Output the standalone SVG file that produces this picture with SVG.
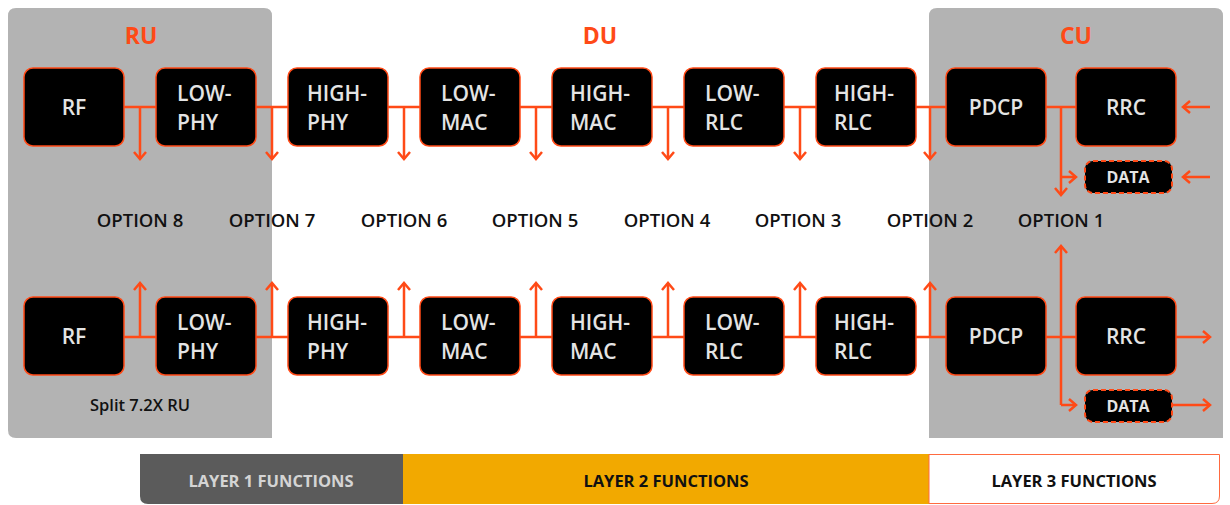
<svg xmlns="http://www.w3.org/2000/svg" width="1230" height="505" viewBox="0 0 1230 505">
<defs>
<style>
.panel{fill:#b3b3b3}
.box{fill:#000;stroke:#ff4a17;stroke-width:1.5}
.dbox{fill:#000;stroke:#ff4a17;stroke-width:2;stroke-dasharray:5 3}
.bt{font-family:"Open Sans","Liberation Sans",sans-serif;font-weight:600;font-size:21px;fill:#e4e4e4}
.bc{text-anchor:middle}
.dt{font-family:"Open Sans","Liberation Sans",sans-serif;font-weight:700;font-size:16px;fill:#e4e4e4;text-anchor:middle}
.hd{font-family:"Open Sans","Liberation Sans",sans-serif;font-weight:700;font-size:23px;fill:#ff4a17;text-anchor:middle}
.op{font-family:"Open Sans","Liberation Sans",sans-serif;font-weight:600;font-size:18.5px;fill:#111;text-anchor:middle}
.sp{font-family:"Open Sans","Liberation Sans",sans-serif;font-weight:600;font-size:16.5px;fill:#111;text-anchor:middle}
.lg{font-family:"Open Sans","Liberation Sans",sans-serif;font-weight:700;font-size:16.5px;text-anchor:middle}
.ln{fill:none;stroke:#ff4a17;stroke-width:2.5}
.ar{fill:none;stroke:#ff4a17;stroke-width:2.5;marker-end:url(#ah)}
</style>
<marker id="ah" viewBox="0 0 12 14" refX="10" refY="7" markerWidth="12" markerHeight="14" markerUnits="userSpaceOnUse" orient="auto">
<path d="M3,1 L10,7 L3,13" fill="none" stroke="#ff4a17" stroke-width="2.5"/>
</marker>
</defs>
<g id="panels">
<path class="panel" d="M8,16 Q8,8 16,8 L264,8 Q272,8 272,16 L272,438 L16,438 Q8,438 8,430 Z"/>
<path class="panel" d="M929,16 Q929,8 937,8 L1215,8 Q1223,8 1223,16 L1223,438 L929,438 Z"/>
</g>
<g id="headers">
<text class="hd" x="141" y="44">RU</text>
<text class="hd" x="600" y="44">DU</text>
<text class="hd" x="1076" y="44">CU</text>
</g>
<g id="connectors">
<path class="ln" d="M124,107H156M256,107H288M388,107H420M520,107H552M652,107H684M784,107H816M916,107H946M1046,107H1076"/>
<path class="ar" d="M140,107V159"/>
<path class="ar" d="M272,107V159"/>
<path class="ar" d="M404,107V159"/>
<path class="ar" d="M536,107V159"/>
<path class="ar" d="M668,107V159"/>
<path class="ar" d="M800,107V159"/>
<path class="ar" d="M930,107V159"/>
<path class="ar" d="M1061,107V195"/>
<path class="ar" d="M1061,177H1076"/>
<path class="ar" d="M1210,107H1183"/>
<path class="ar" d="M1210,177H1183"/>
<path class="ln" d="M124,337H156M256,337H288M388,337H420M520,337H552M652,337H684M784,337H816M916,337H946M1046,337H1076"/>
<path class="ar" d="M140,337V283"/>
<path class="ar" d="M272,337V283"/>
<path class="ar" d="M404,337V283"/>
<path class="ar" d="M536,337V283"/>
<path class="ar" d="M668,337V283"/>
<path class="ar" d="M800,337V283"/>
<path class="ar" d="M930,337V283"/>
<path class="ar" d="M1061,405V246"/>
<path class="ar" d="M1061,405H1076"/>
<path class="ar" d="M1176,337H1210"/>
<path class="ar" d="M1172,405H1210"/>
</g>
<g id="top-rf"><rect class="box" x="24" y="68" width="100" height="78" rx="9"/><text class="bt bc" x="74" y="115">RF</text></g>
<g id="top-lowphy"><rect class="box" x="156" y="68" width="100" height="78" rx="9"/><text class="bt" x="177" y="101">LOW-</text><text class="bt" x="177" y="130">PHY</text></g>
<g id="top-highphy"><rect class="box" x="288" y="68" width="100" height="78" rx="9"/><text class="bt" x="307" y="101">HIGH-</text><text class="bt" x="307" y="130">PHY</text></g>
<g id="top-lowmac"><rect class="box" x="420" y="68" width="100" height="78" rx="9"/><text class="bt" x="441" y="101">LOW-</text><text class="bt" x="441" y="130">MAC</text></g>
<g id="top-highmac"><rect class="box" x="552" y="68" width="100" height="78" rx="9"/><text class="bt" x="570" y="101">HIGH-</text><text class="bt" x="570" y="130">MAC</text></g>
<g id="top-lowrlc"><rect class="box" x="684" y="68" width="100" height="78" rx="9"/><text class="bt" x="705" y="101">LOW-</text><text class="bt" x="705" y="130">RLC</text></g>
<g id="top-highrlc"><rect class="box" x="816" y="68" width="100" height="78" rx="9"/><text class="bt" x="834" y="101">HIGH-</text><text class="bt" x="834" y="130">RLC</text></g>
<g id="top-pdcp"><rect class="box" x="946" y="68" width="100" height="78" rx="9"/><text class="bt bc" x="996" y="115">PDCP</text></g>
<g id="top-rrc"><rect class="box" x="1076" y="68" width="100" height="78" rx="9"/><text class="bt bc" x="1126" y="115">RRC</text></g>
<g id="top-data"><rect class="dbox" x="1085" y="161" width="87" height="32" rx="8"/><text class="dt" x="1128" y="183">DATA</text></g>
<g id="options">
<text class="op" x="140" y="227">OPTION 8</text>
<text class="op" x="272" y="227">OPTION 7</text>
<text class="op" x="404" y="227">OPTION 6</text>
<text class="op" x="535" y="227">OPTION 5</text>
<text class="op" x="667" y="227">OPTION 4</text>
<text class="op" x="798" y="227">OPTION 3</text>
<text class="op" x="930" y="227">OPTION 2</text>
<text class="op" x="1061" y="227">OPTION 1</text>
</g>
<g id="bot-rf"><rect class="box" x="24" y="297" width="100" height="78" rx="9"/><text class="bt bc" x="74" y="344">RF</text></g>
<g id="bot-lowphy"><rect class="box" x="156" y="297" width="100" height="78" rx="9"/><text class="bt" x="177" y="330">LOW-</text><text class="bt" x="177" y="359">PHY</text></g>
<g id="bot-highphy"><rect class="box" x="288" y="297" width="100" height="78" rx="9"/><text class="bt" x="307" y="330">HIGH-</text><text class="bt" x="307" y="359">PHY</text></g>
<g id="bot-lowmac"><rect class="box" x="420" y="297" width="100" height="78" rx="9"/><text class="bt" x="441" y="330">LOW-</text><text class="bt" x="441" y="359">MAC</text></g>
<g id="bot-highmac"><rect class="box" x="552" y="297" width="100" height="78" rx="9"/><text class="bt" x="570" y="330">HIGH-</text><text class="bt" x="570" y="359">MAC</text></g>
<g id="bot-lowrlc"><rect class="box" x="684" y="297" width="100" height="78" rx="9"/><text class="bt" x="705" y="330">LOW-</text><text class="bt" x="705" y="359">RLC</text></g>
<g id="bot-highrlc"><rect class="box" x="816" y="297" width="100" height="78" rx="9"/><text class="bt" x="834" y="330">HIGH-</text><text class="bt" x="834" y="359">RLC</text></g>
<g id="bot-pdcp"><rect class="box" x="946" y="297" width="100" height="78" rx="9"/><text class="bt bc" x="996" y="344">PDCP</text></g>
<g id="bot-rrc"><rect class="box" x="1076" y="297" width="100" height="78" rx="9"/><text class="bt bc" x="1126" y="344">RRC</text></g>
<g id="bot-data"><rect class="dbox" x="1085" y="390" width="87" height="32" rx="8"/><text class="dt" x="1128" y="412">DATA</text></g>
<g id="split-label"><text class="sp" x="140" y="411">Split 7.2X RU</text></g>
<g id="legend">
<path d="M140,454 H403 V504 H148 Q140,504 140,496 Z" fill="#5b5b5b"/>
<rect x="403" y="454" width="526" height="50" fill="#f2a900"/>
<path d="M929,454.5 H1219.5 V496 Q1219.5,503.5 1212,503.5 H929 Z" fill="#fff" stroke="#ff6a40" stroke-width="1"/>
<text class="lg" x="271" y="487" fill="#d4d4d4">LAYER 1 FUNCTIONS</text>
<text class="lg" x="666" y="487" fill="#111">LAYER 2 FUNCTIONS</text>
<text class="lg" x="1074" y="487" fill="#111">LAYER 3 FUNCTIONS</text>
</g>
</svg>
